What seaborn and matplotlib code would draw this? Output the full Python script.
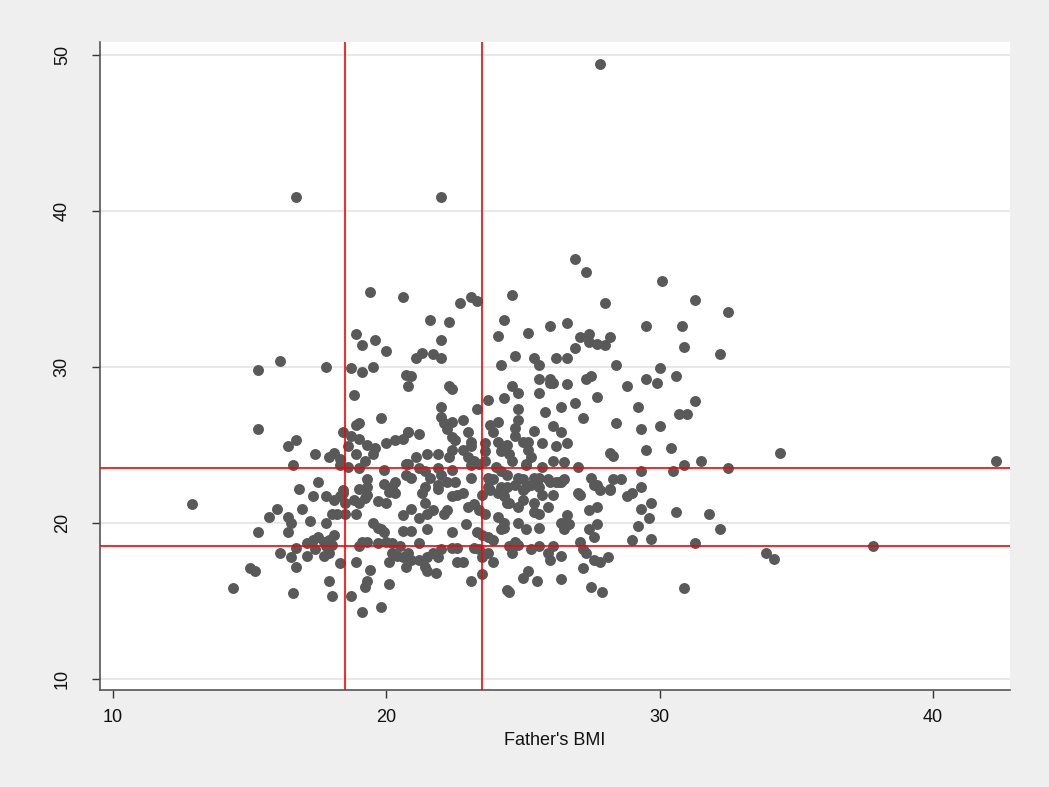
import matplotlib
matplotlib.use("Agg")
import matplotlib.pyplot as plt
import seaborn as sns
import pandas as pd

father_bmi = [
27.8,16.7,22.0,26.9,27.3,30.1,19.4,20.6,22.7,23.1,23.3,24.6,21.6,22.3,24.3,24.1,25.2,26.0,26.6,22.0,
21.1,21.3,21.7,22.0,24.7,25.4,26.2,26.6,24.2,25.6,20.7,20.9,20.8,22.3,22.4,24.6,25.6,26.0,26.1,26.6,
18.9,19.1,19.6,20.0,15.3,16.1,17.8,18.7,19.1,19.5,28.0,31.3,32.5,29.5,30.8,27.1,27.4,27.4,27.7,28.0,
28.2,26.9,30.9,32.2,28.4,30.0,27.3,27.5,28.8,29.5,29.9,30.6,
18.8,19.8,15.3,18.9,19.0,18.4,18.7,19.0,16.7,16.4,19.3,19.6,19.5,20.0,20.3,20.6,20.8,18.6,17.4,18.1,
17.9,18.3,18.9,19.2,16.6,18.3,18.6,19.0,19.9,20.7,20.7,19.3,17.5,16.8,19.0,19.9,20.3,18.4,
24.8,26.0,23.7,24.3,25.6,22.0,23.3,24.8,25.8,26.4,22.0,22.1,22.4,22.8,24.1,23.8,23.9,24.8,26.1,20.8,
21.2,22.2,22.4,22.5,23.0,23.1,24.7,24.7,25.4,26.4,25.0,25.2,25.7,26.6,23.6,24.1,24.4,22.4,22.8,23.1,
21.5,21.9,22.3,23.6,24.2,24.5,25.2,25.3,26.2,21.1,20.8,23.0,23.2,23.6,24.6,25.1,25.7,26.1,26.5,21.2,
21.4,21.9,22.4,23.1,23.4,24.0,24.2,25.1,20.9,21.6,22.0,23.1,23.7,23.9,24.4,24.8,25.0,25.4,25.6,25.9,
26.2,26.5,21.4,21.9,22.2,22.5,23.7,24.2,25.1,25.6,
27.7,26.9,29.2,31.3,30.7,31.0,27.2,28.4,29.3,30.0,28.2,28.3,29.5,30.4,27.0,29.3,30.5,30.9,31.5,32.5,
27.5,27.7,28.3,28.6,28.2,29.3,26.4,34.4,42.3,
12.9,17.3,17.8,18.1,18.3,18.4,18.5,16.0,15.7,16.4,16.5,16.9,17.2,18.0,18.2,18.5,17.8,15.3,16.4,18.1,
17.1,17.3,17.5,17.7,17.9,18.0,17.4,17.8,16.7,16.1,16.5,17.1,17.7,17.9,18.3,16.7,15.0,15.2,17.9,14.4,
16.6,18.0,18.7,
18.8,19.0,19.2,19.3,19.3,20.2,18.9,19.7,20.0,20.1,20.3,20.6,20.9,21.3,21.4,21.2,21.5,21.5,21.9,21.7,
22.1,22.2,22.4,22.6,22.8,23.0,23.2,23.4,23.6,22.9,23.5,23.8,24.1,24.3,24.4,24.1,24.3,19.5,19.7,19.8,
19.9,20.6,20.9,22.4,23.3,23.5,23.7,23.9,19.1,19.3,19.7,20.0,20.2,20.5,21.2,19.0,18.9,20.2,20.4,20.6,
20.8,20.9,21.2,21.5,21.7,21.9,22.0,22.4,22.6,23.2,23.4,23.7,23.5,23.9,22.6,22.8,20.1,20.7,21.4,21.8,
21.5,19.4,19.3,19.2,20.1,23.1,23.5,24.4,19.8,19.1,
24.4,24.7,25.0,25.3,26.0,26.3,24.5,24.8,25.0,25.4,25.7,26.1,25.4,25.6,25.9,26.6,27.0,27.1,27.6,27.8,
28.2,28.8,29.0,29.7,29.3,29.6,27.4,27.7,24.3,24.2,24.8,25.1,25.6,26.4,26.5,26.7,27.4,27.6,27.7,29.2,
29.0,29.7,27.1,24.5,24.7,24.8,24.6,25.3,25.6,26.1,25.9,26.0,26.4,27.2,27.3,27.6,27.8,28.1,27.2,25.0,
25.2,25.5,26.4,27.5,27.9,24.5,
30.6,31.8,32.2,31.3,33.9,34.2,30.9,37.8,
]

child_bmi = [
49.4,40.9,40.9,36.9,36.1,35.5,34.8,34.5,34.1,34.5,34.2,34.6,33.0,32.9,33.0,32.0,32.2,32.6,32.8,31.7,
30.6,30.9,30.8,30.6,30.7,30.6,30.6,30.6,30.1,30.1,29.5,29.4,28.8,28.8,28.6,28.8,29.2,29.2,29.0,28.9,
32.1,31.4,31.7,31.0,29.8,30.4,30.0,29.9,29.7,30.0,34.1,34.3,33.5,32.6,32.6,31.9,32.1,31.6,31.5,31.4,
31.9,31.2,31.3,30.8,30.1,29.9,29.2,29.4,28.8,29.2,29.0,29.4,
28.2,26.7,26.0,26.3,26.4,25.8,25.6,25.4,25.3,24.9,25.0,24.8,24.4,25.1,25.3,25.4,25.8,24.9,24.4,24.5,
24.2,24.1,24.4,24.0,23.7,23.7,23.6,23.5,23.4,23.8,23.1,22.8,22.6,22.2,22.2,22.5,22.6,22.1,
28.3,29.0,27.9,28.0,28.3,27.4,27.3,27.3,27.1,27.4,26.8,26.4,26.5,26.6,26.5,26.3,25.8,26.6,26.2,25.8,
25.7,26.0,25.5,25.3,25.8,25.2,26.1,25.6,25.9,25.8,25.2,25.2,25.1,25.1,25.1,25.2,25.0,24.7,24.7,24.9,
24.4,24.4,24.2,24.6,24.6,24.4,24.7,24.2,24.9,24.2,23.8,24.2,24.0,24.0,24.0,23.8,23.6,24.0,23.9,23.5,
23.3,23.5,23.4,23.7,23.8,23.6,23.3,23.7,22.9,22.9,23.1,22.9,22.9,22.8,23.1,22.9,22.8,22.9,22.9,22.8,
22.6,22.8,22.3,22.4,22.6,22.6,22.3,22.3,22.3,22.3,
28.1,27.7,27.4,27.8,27.0,27.0,26.7,26.4,26.0,26.2,24.5,24.3,24.7,24.8,23.6,23.3,23.3,23.7,24.0,23.5,
22.9,22.4,22.8,22.8,22.2,22.3,22.6,24.5,24.0,
21.2,21.7,21.7,21.5,21.7,21.9,21.3,20.9,20.4,20.4,20.0,20.9,20.1,20.6,20.6,20.6,20.0,19.4,19.4,19.2,
18.7,18.9,19.1,18.8,18.9,18.6,18.3,18.5,18.4,18.1,17.8,17.9,17.9,18.1,17.4,17.2,17.1,16.9,16.3,15.8,
15.5,15.3,15.3,
21.5,21.3,21.6,21.8,22.3,22.3,20.6,21.4,21.3,22.0,21.9,20.5,20.9,21.9,21.3,20.3,20.6,19.6,22.2,20.8,
20.6,20.8,21.7,21.8,21.9,21.0,21.2,20.8,20.6,19.9,21.8,22.1,21.9,21.7,21.3,20.4,19.7,20.0,19.7,19.6,
19.4,19.5,19.5,19.4,19.4,19.2,19.1,18.9,18.8,18.8,18.7,18.8,18.7,18.5,18.7,18.5,17.5,18.1,17.9,17.8,
18.1,17.6,17.6,17.8,18.1,17.8,18.3,18.4,18.4,18.4,18.3,18.1,17.8,17.5,17.5,17.5,17.5,17.2,17.2,16.8,
16.9,17.0,16.3,15.9,16.1,16.3,16.7,15.7,14.6,14.3,
22.3,22.4,22.1,22.4,22.6,22.6,21.3,21.0,21.5,21.3,21.8,21.8,20.7,20.6,21.0,20.5,21.9,21.8,22.4,22.1,
22.1,21.7,21.9,21.3,20.9,20.3,20.8,21.0,20.0,19.6,20.0,19.6,19.7,20.0,19.6,19.9,19.6,19.1,19.9,19.8,
18.9,19.0,18.8,18.5,18.8,18.6,18.1,18.3,18.5,18.5,18.1,17.6,17.9,18.3,18.1,17.6,17.5,17.8,17.1,16.5,
16.9,16.3,16.4,15.9,15.6,15.6,
20.7,20.6,19.6,18.7,18.1,17.7,15.8,18.5,
]

xref_lines = [18.5, 23.5]
yref_lines = [18.5, 23.5]
x_ticks = [10, 20, 30, 40]
y_ticks = [10, 20, 30, 40, 50]
x_label = "Father's BMI"

df = pd.DataFrame({"father": father_bmi, "child": child_bmi})

sns.set_theme(style="white")
plt.rcParams["font.family"] = ["Liberation Sans", "DejaVu Sans"]

fig = plt.figure(figsize=(10.49, 7.87), dpi=100, facecolor="#efefef")
ax = fig.add_axes([100/1049, 1-690/787, 910/1049, 648/787])
ax.set_facecolor("white")

for yv in y_ticks:
    ax.axhline(yv, color="#e6e6e6", lw=1.3, zorder=0)

sns.scatterplot(data=df, x="father", y="child", ax=ax, color="#595959",
                s=62, linewidth=0, alpha=1, zorder=3)

for xv in xref_lines:
    ax.axvline(xv, color="#ff0000", lw=1.2, zorder=4)
for yv in yref_lines:
    ax.axhline(yv, color="#ff0000", lw=1.2, zorder=4)

ax.set_xlim(9.52, 42.82)
ax.set_ylim(9.29, 50.83)
ax.set_xticks(x_ticks)
ax.set_yticks(y_ticks)
ax.set_xlabel(x_label, fontsize=13, color="#111111", labelpad=4)
ax.set_ylabel("")
for s in ["top", "right"]:
    ax.spines[s].set_visible(False)
for s in ["left", "bottom"]:
    ax.spines[s].set_color("#555555")
    ax.spines[s].set_linewidth(1.2)
ax.tick_params(axis="both", direction="out", length=6, width=1.0, color="#333333",
               labelsize=13, labelcolor="#111111", left=True, bottom=True)
ax.tick_params(axis="y", pad=15)
ax.tick_params(axis="x", pad=8)
for lab in ax.get_yticklabels():
    lab.set_rotation(90)
    lab.set_va("center")
ax.grid(False)

fig.savefig("out.png", dpi=100, facecolor=fig.get_facecolor())
